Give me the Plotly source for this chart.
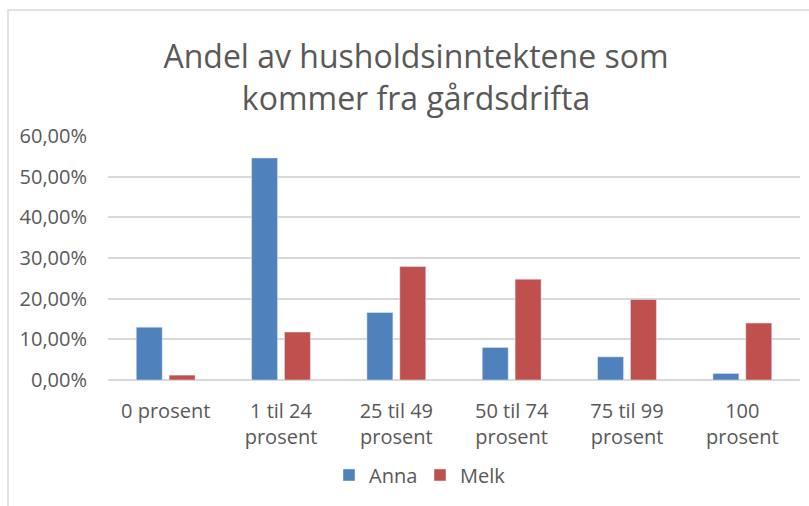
import plotly.graph_objects as go

categories = ["0 prosent", "1 til 24<br>prosent", "25 til 49<br>prosent",
              "50 til 74<br>prosent", "75 til 99<br>prosent", "100<br>prosent"]
anna = [13.0, 54.6, 16.6, 8.0, 5.7, 1.6]
melk = [1.2, 11.8, 27.9, 24.8, 19.8, 14.0]
y_ticks = [0, 10, 20, 30, 40, 50, 60]
y_tick_text = [f"{v:.2f}".replace(".", ",") + "%" for v in y_ticks]

FONT = "Open Sans"
GREY = "#595959"

fig = go.Figure()
fig.add_trace(go.Bar(name="Anna", x=categories, y=anna, marker_color="#4F81BD"))
fig.add_trace(go.Bar(name="Melk", x=categories, y=melk, marker_color="#C0504D"))

L, R, T, B = 108, 9, 136, 126
W, H = 809, 506
pw, ph = W - L - R, H - T - B

fig.update_layout(
    width=W, height=H,
    margin=dict(l=L, r=R, t=T, b=B, autoexpand=False),
    paper_bgcolor="white", plot_bgcolor="white",
    barmode="group", bargap=0.43, bargroupgap=0.21,
    font=dict(family=FONT, size=20, color=GREY),
    title=dict(text="Andel av husholdsinntektene som<br>kommer fra gårdsdrifta",
               font=dict(family=FONT, size=32, color=GREY),
               x=416 / W, xanchor="center", xref="container",
               y=1 - 68 / H, yanchor="middle", yref="container"),
    legend=dict(orientation="h", x=(420 - L) / pw, xanchor="center",
                y=(T + ph - 475) / ph, yanchor="middle",
                font=dict(family=FONT, size=20, color=GREY),
                entrywidth=46, entrywidthmode="pixels",
                tracegroupgap=0),
    xaxis=dict(showgrid=False, showline=False, ticks="", automargin=False,
               ticklabelstandoff=17,
               tickfont=dict(family=FONT, size=20, color=GREY)),
    yaxis=dict(range=[0, 60], tickvals=y_ticks, ticktext=y_tick_text,
               showgrid=True, gridcolor="#D9D9D9", gridwidth=1.5,
               zeroline=True, zerolinecolor="#D9D9D9", zerolinewidth=1.5,
               showline=False, ticks="", ticklabelstandoff=20, automargin=False,
               tickfont=dict(family=FONT, size=20, color=GREY)),
    shapes=[dict(type="rect", xref="paper", yref="paper",
                 x0=(8 - L) / pw, x1=1.2, y0=-1.0, y1=1 + (T - 10) / ph,
                 line=dict(color="#D9D9D9", width=1.5), fillcolor="rgba(0,0,0,0)",
                 layer="below")],
)

fig.write_html("out.html", config={"displayModeBar": False},
               post_script="document.body.style.margin='0';")
